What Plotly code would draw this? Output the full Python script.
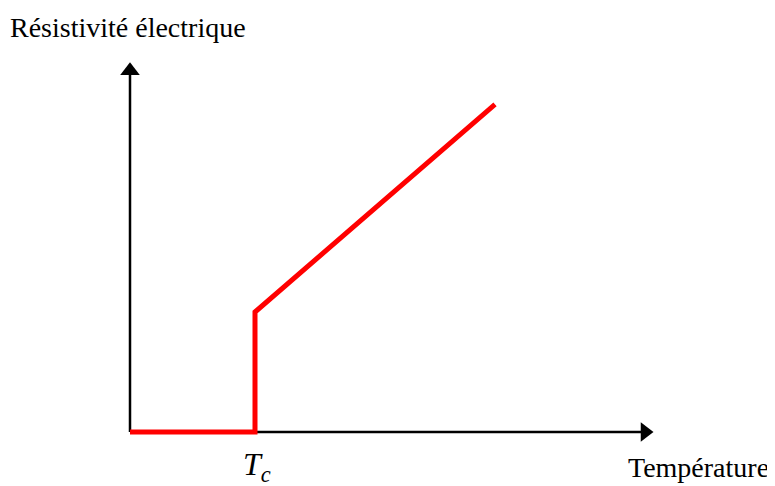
import plotly.graph_objects as go

# Data (conceptual units: Tc = 1, resistivity jump = 1)
temperature = [0, 1, 1, 2.92]
resistivity = [0, 0, 1, 2.73]
x_axis_x = [0, 4.12]
x_axis_y = [0, 0]
y_axis_x = [0, 0]
y_axis_y = [0, 3.01]
y_label = "Résistivité électrique"
x_label = "Température"
tc_label = "<i>T</i><sub><i>c</i></sub>"

# page has an 8px body margin: figure pixel = screen pixel - 8
W, H = 767, 478
px_x = 125.0
px_y = 120.0
x0, y0 = -0.4, -0.3
origin_fx, origin_fy = 122, 424   # figure pixels of data origin
ml = int(origin_fx + x0 * px_x)
mb = int(H - origin_fy + y0 * px_y)
plot_w = W - ml
plot_h = H - mb


def px(sx):
    return (sx - 8 - ml) / plot_w


def py(sy):
    return (plot_h - (sy - 8 - 0)) / plot_h


fig = go.Figure()
# axes with arrowheads
fig.add_trace(go.Scatter(x=x_axis_x, y=x_axis_y, mode="lines",
                         line=dict(color="black", width=2.5),
                         hoverinfo="skip", showlegend=False))
fig.add_trace(go.Scatter(x=[x_axis_x[-1]], y=[x_axis_y[-1]], mode="markers",
                         marker=dict(symbol="triangle-right", size=17, color="black",
                                     line=dict(width=0)),
                         hoverinfo="skip", showlegend=False))
fig.add_trace(go.Scatter(x=y_axis_x, y=y_axis_y, mode="lines",
                         line=dict(color="black", width=2.5),
                         hoverinfo="skip", showlegend=False))
fig.add_trace(go.Scatter(x=[y_axis_x[-1]], y=[y_axis_y[-1]], mode="markers",
                         marker=dict(symbol="triangle-up", size=17, color="black",
                                     line=dict(width=0)),
                         hoverinfo="skip", showlegend=False))
fig.add_trace(go.Scatter(x=temperature, y=resistivity, mode="lines",
                         line=dict(color="#ff0000", width=5),
                         hoverinfo="skip", showlegend=False))

font = dict(family="Liberation Serif, Times New Roman, serif", size=28, color="black")

annotations = [
    dict(x=px(8), y=py(28), xref="paper", yref="paper", text=y_label,
         showarrow=False, xanchor="left", yanchor="middle", font=font),
    dict(x=px(771), y=py(467), xref="paper", yref="paper", text=x_label,
         showarrow=False, xanchor="right", yanchor="middle", font=font),
    dict(x=px(257), y=py(466), xref="paper", yref="paper", text=tc_label,
         showarrow=False, xanchor="center", yanchor="middle",
         font=dict(family="Liberation Serif, Times New Roman, serif", size=32, color="black")),
]

fig.update_layout(
    width=W, height=H,
    margin=dict(l=ml, r=0, t=0, b=mb),
    paper_bgcolor="white", plot_bgcolor="white",
    xaxis=dict(range=[x0, x0 + plot_w / px_x], visible=False, fixedrange=True),
    yaxis=dict(range=[y0, y0 + plot_h / px_y], visible=False, fixedrange=True),
    annotations=annotations,
    showlegend=False,
)
fig.update_traces(cliponaxis=False)

fig.write_html("out.html")
